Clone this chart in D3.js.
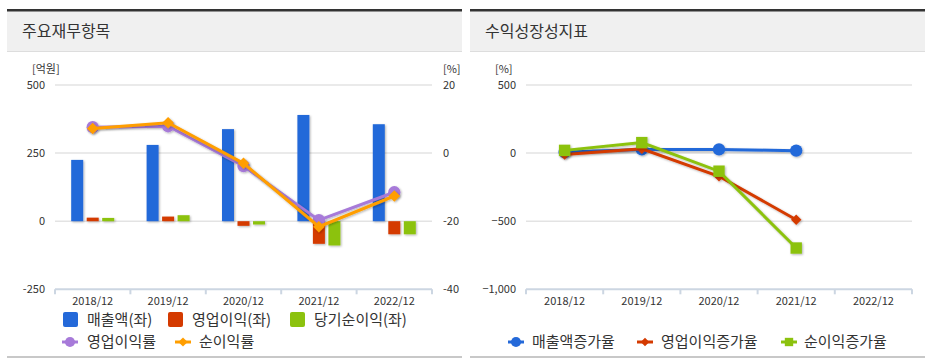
<!DOCTYPE html>
<meta charset="utf-8">
<script src="https://d3js.org/d3.v7.min.js"></script>
<style>
  body { margin: 0; background: #fff; }
  text { font-family: "Noto Sans CJK KR", "Noto Sans", sans-serif; }
  .tick text { font-size: 11px; fill: #333; }
</style>
<div id="chart"></div>
<script>
  // data
  var years = ["2018/12", "2019/12", "2020/12", "2021/12", "2022/12"];
  var sales = [225, 280, 338, 390, 356];
  var opProfit = [13, 17, -17, -83, -48];
  var netProfit = [12, 22, -12, -89, -48];
  var opMargin = [7.6, 7.9, -3.8, -19.7, -11.5];
  var netMargin = [7.2, 8.9, -3.0, -21.6, -12.6];
  var salesGrowth = [8, 27, 27, 18, null];
  var opGrowth = [-10, 32, -170, -489, null];
  var netGrowth = [20, 77, -133, -697, null];
  var leftTicks = [500, 250, 0, -250];
  var rightTicks = [20, 0, -20, -40];
  var growthTicks = [500, 0, -500, -1000];

  var C = { blue: "#2469d9", red: "#d43a00", green: "#8cc20e", purple: "#a77ad9", orange: "#ff9e00" };

  var svg = d3.select("#chart").append("svg").attr("width", 933).attr("height", 361);
  var defs = svg.append("defs");
  var sh = defs.append("filter").attr("id", "shadow").attr("x", "-30%").attr("y", "-30%").attr("width", "160%").attr("height", "160%");
  sh.append("feDropShadow").attr("dx", 1).attr("dy", 1).attr("stdDeviation", 1).attr("flood-color", "#000").attr("flood-opacity", 0.3);

  function panel(x0, x1, title) {
    svg.append("rect").attr("x", x0).attr("y", 11).attr("width", x1 - x0).attr("height", 40).attr("fill", "#f0f0f0");
    svg.append("rect").attr("x", x0).attr("y", 9).attr("width", x1 - x0).attr("height", 2.5).attr("fill", "#333");
    svg.append("rect").attr("x", x0).attr("y", 51).attr("width", x1 - x0).attr("height", 1).attr("fill", "#ddd");
    svg.append("rect").attr("x", x0).attr("y", 356).attr("width", x1 - x0).attr("height", 2).attr("fill", "#c8c8c8");
    svg.append("text").attr("x", x0 + 15).attr("y", 37).attr("font-size", 16).attr("fill", "#333").text(title);
  }
  panel(7, 462, "주요재무항목");
  panel(470, 925, "수익성장성지표");

  function grid(g, y, ticks, x0, x1) {
    g.selectAll(".grid").data(ticks).join("line")
      .attr("x1", x0).attr("x2", x1)
      .attr("y1", function (d) { return y(d); }).attr("y2", function (d) { return y(d); })
      .attr("stroke", "#e3e3e3").attr("stroke-width", 1.5);
  }

  function bottomAxis(x, y0, x0, x1) {
    var g = svg.append("g");
    g.append("line").attr("x1", x0).attr("x2", x1).attr("y1", y0).attr("y2", y0).attr("stroke", "#ccd6e2").attr("stroke-width", 2);
    var edges = x.domain().map(function (d) { return x(d); }).concat([x1]);
    g.selectAll(".tk").data(edges).join("line")
      .attr("x1", function (d) { return d; }).attr("x2", function (d) { return d; })
      .attr("y1", y0).attr("y2", y0 + 5).attr("stroke", "#ccd6e2").attr("stroke-width", 2);
    g.selectAll(".lb").data(x.domain()).join("text")
      .attr("x", function (d) { return x(d) + x.bandwidth() / 2; }).attr("y", y0 + 16)
      .attr("text-anchor", "middle").attr("font-size", 11).attr("fill", "#333").text(function (d) { return d; });
  }

  function symbol(g, type, size, color, cx, cy) {
    g.append("path").attr("d", d3.symbol().type(type).size(size)())
      .attr("transform", "translate(" + cx + "," + cy + ")").attr("fill", color);
  }

  var diamond = {
    draw: function (ctx, size) {
      var r = Math.sqrt(size) / 2 * 1.1;
      ctx.moveTo(0, -r); ctx.lineTo(r, 0); ctx.lineTo(0, r); ctx.lineTo(-r, 0); ctx.closePath();
    }
  };

  // ---------- left chart
  var xL = d3.scaleBand().domain(years).range([55, 432]);
  var yL = d3.scaleLinear().domain([-250, 500]).range([289.3, 85]);
  var yR = d3.scaleLinear().domain([-40, 20]).range([289.3, 85]);

  var gL = svg.append("g");
  grid(gL, yL, leftTicks.slice(0, 3), 55, 432);
  gL.selectAll(".yl").data(leftTicks).join("text")
    .attr("x", 45).attr("y", function (d) { return yL(d) + 4; }).attr("text-anchor", "end")
    .attr("font-size", 11).attr("fill", "#333").text(function (d) { return d; });
  gL.selectAll(".yr").data(rightTicks).join("text")
    .attr("x", 443).attr("y", function (d) { return yR(d) + 4; })
    .attr("font-size", 11).attr("fill", "#333").text(function (d) { return d; });
  gL.append("text").attr("x", 32).attr("y", 73).attr("font-size", 11).attr("fill", "#333").text("[억원]");
  gL.append("text").attr("x", 443).attr("y", 73).attr("font-size", 11).attr("fill", "#333").text("[%]");
  bottomAxis(xL, 289.3, 55, 432);

  var barSeries = [
    { vals: sales, color: C.blue, off: -15.5 },
    { vals: opProfit, color: C.red, off: 0 },
    { vals: netProfit, color: C.green, off: 15.5 }
  ];
  barSeries.forEach(function (s) {
    gL.append("g").attr("filter", "url(#shadow)").selectAll("rect").data(years).join("rect")
      .attr("x", function (d) { return xL(d) + xL.bandwidth() / 2 + s.off - 6; })
      .attr("width", 12)
      .attr("y", function (d, i) { return yL(Math.max(0, s.vals[i])); })
      .attr("height", function (d, i) { return Math.abs(yL(s.vals[i]) - yL(0)); })
      .attr("fill", s.color);
  });

  var cx = function (d, i) { return xL(years[i]) + xL.bandwidth() / 2; };
  [{ vals: opMargin, color: C.purple, type: d3.symbolCircle, size: 120 },
   { vals: netMargin, color: C.orange, type: diamond, size: 110 }].forEach(function (s) {
    var g = gL.append("g").attr("filter", "url(#shadow)");
    g.append("path").datum(s.vals)
      .attr("d", d3.line().x(cx).y(function (d) { return yR(d); }))
      .attr("fill", "none").attr("stroke", s.color).attr("stroke-width", 3);
    s.vals.forEach(function (v, i) { symbol(g, s.type, s.size, s.color, cx(v, i), yR(v)); });
  });

  // left legend
  var lg = svg.append("g");
  [{ x: 63, c: C.blue, t: "매출액(좌)" }, { x: 168, c: C.red, t: "영업이익(좌)" }, { x: 290, c: C.green, t: "당기순이익(좌)" }].forEach(function (d) {
    lg.append("rect").attr("x", d.x).attr("y", 312).attr("width", 15).attr("height", 15).attr("rx", 2).attr("fill", d.c);
    lg.append("text").attr("x", d.x + 24).attr("y", 325).attr("font-size", 15).attr("fill", "#333").text(d.t);
  });
  function lineIcon(g, x, y, c, type, size) {
    g.append("line").attr("x1", x).attr("x2", x + 16).attr("y1", y).attr("y2", y).attr("stroke", c).attr("stroke-width", 3);
    symbol(g, type, size, c, x + 8, y);
  }
  lineIcon(lg, 62, 342, C.purple, d3.symbolCircle, 80);
  lg.append("text").attr("x", 87).attr("y", 347).attr("font-size", 15).attr("fill", "#333").text("영업이익률");
  lineIcon(lg, 175, 342, C.orange, diamond, 70);
  lg.append("text").attr("x", 199).attr("y", 347).attr("font-size", 15).attr("fill", "#333").text("순이익률");

  // ---------- right chart
  var xG = d3.scaleBand().domain(years).range([526, 912]);
  var yG = d3.scaleLinear().domain([-1000, 500]).range([289.3, 85]);
  var gR = svg.append("g");
  grid(gR, yG, growthTicks.slice(0, 3), 526, 912);
  gR.selectAll(".yg").data(growthTicks).join("text")
    .attr("x", 516).attr("y", function (d) { return yG(d) + 4; }).attr("text-anchor", "end")
    .attr("font-size", 11).attr("fill", "#333").text(function (d) { return d3.format(",")(d); });
  gR.append("text").attr("x", 495).attr("y", 73).attr("font-size", 11).attr("fill", "#333").text("[%]");
  bottomAxis(xG, 289.3, 526, 912);

  var gx = function (d, i) { return xG(years[i]) + xG.bandwidth() / 2; };
  var growth = [
    { vals: salesGrowth, color: C.blue, type: d3.symbolCircle, size: 120 },
    { vals: opGrowth, color: C.red, type: diamond, size: 90 },
    { vals: netGrowth, color: C.green, type: d3.symbolSquare, size: 130 }
  ];
  growth.forEach(function (s) {
    var g = gR.append("g").attr("filter", "url(#shadow)");
    g.append("path").datum(s.vals)
      .attr("d", d3.line().defined(function (d) { return d != null; }).x(gx).y(function (d) { return yG(d); }))
      .attr("fill", "none").attr("stroke", s.color).attr("stroke-width", 3);
    s.vals.forEach(function (v, i) { if (v != null) symbol(g, s.type, s.size, s.color, gx(v, i), yG(v)); });
  });

  var rg = svg.append("g");
  lineIcon(rg, 508, 342, C.blue, d3.symbolCircle, 80);
  rg.append("text").attr("x", 532).attr("y", 347).attr("font-size", 15).attr("fill", "#333").text("매출액증가율");
  lineIcon(rg, 637, 342, C.red, diamond, 60);
  rg.append("text").attr("x", 661).attr("y", 347).attr("font-size", 15).attr("fill", "#333").text("영업이익증가율");
  lineIcon(rg, 781, 342, C.green, d3.symbolSquare, 70);
  rg.append("text").attr("x", 804).attr("y", 347).attr("font-size", 15).attr("fill", "#333").text("순이익증가율");
</script>
